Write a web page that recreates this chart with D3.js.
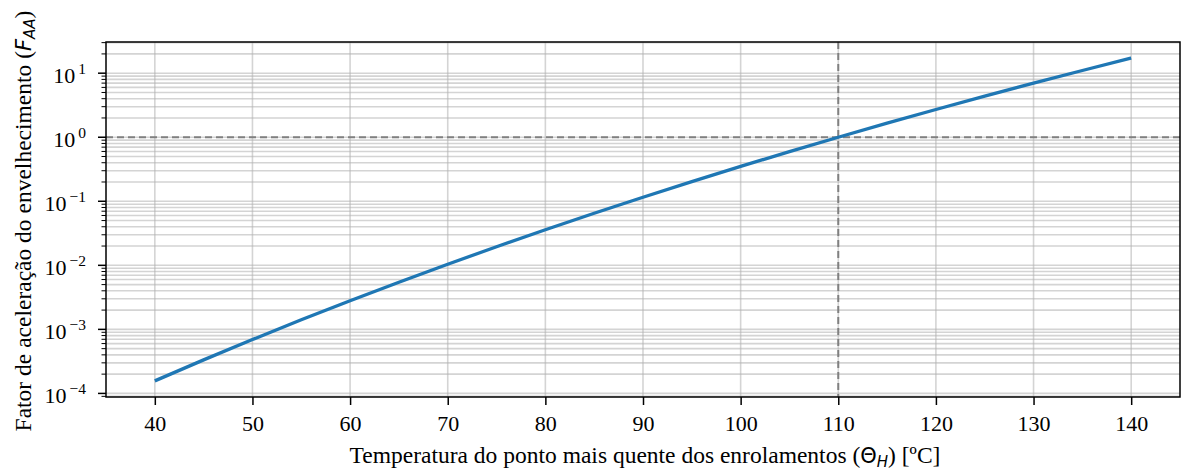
<!DOCTYPE html>
<html>
<head>
<meta charset="utf-8">
<script src="https://cdn.jsdelivr.net/npm/d3@7"></script>
<style>
  body { margin: 0; background: #fff; }
  svg { display: block; font-family: 'Liberation Serif', 'Times New Roman', serif; }
</style>
</head>
<body>
<div class="canvas"></div>
<script>
// hot-spot temperature [ºC] and aging acceleration factor
const temps = [40, 45, 50, 55, 60, 65, 70, 75, 80, 85, 90, 95, 100, 105, 110, 115, 120, 125, 130, 135, 140]
const faa = [1.57e-4, 3.34e-4, 6.93e-4, 1.41e-3, 2.79e-3, 5.44e-3, 1.04e-2, 1.95e-2, 3.59e-2, 6.49e-2,
    0.1156, 0.2026, 0.350, 0.596, 1.0, 1.657, 2.71, 4.38, 6.99, 11.02, 17.2]
const xTicks = [40, 50, 60, 70, 80, 90, 100, 110, 120, 130, 140]
const yExps = [-4, -3, -2, -1, 0, 1]
const refTemp = 110
const refFactor = 1

const width = 1181
const height = 470
const margin = { top: 42, right: 1, bottom: 73, left: 106 }

const svg = d3.select('.canvas')
    .append('svg')
    .attr('width', width)
    .attr('height', height)

const x = d3.scaleLinear()
    .domain([35, 145])
    .range([margin.left, width - margin.right])

const y = d3.scaleLog()
    .domain([Math.pow(10, -4.056), Math.pow(10, 1.487)])
    .range([height - margin.bottom, margin.top])

const [x0, x1] = x.range()
const [y0, y1] = y.range()

// minor ticks for the log axis
const minor = []
for (let e = -5; e <= 1; e++) {
    for (let m = 2; m <= 9; m++) {
        const v = m * Math.pow(10, e)
        if (v > y.domain()[0] && v < y.domain()[1]) minor.push(v)
    }
}

const grid = svg.append('g')
    .attr('stroke', '#b0b0b0')
    .attr('stroke-opacity', 0.55)
    .attr('stroke-width', 1.6)

grid.selectAll('.gy')
    .data(minor.concat(yExps.map(e => Math.pow(10, e))))
    .enter().append('line')
    .attr('x1', x0).attr('x2', x1)
    .attr('y1', d => y(d)).attr('y2', d => y(d))

grid.selectAll('.gx')
    .data(xTicks)
    .enter().append('line')
    .attr('x1', d => x(d)).attr('x2', d => x(d))
    .attr('y1', y1).attr('y2', y0)

// reference lines
svg.append('line')
    .attr('x1', x0).attr('x2', x1)
    .attr('y1', y(refFactor)).attr('y2', y(refFactor))
    .attr('stroke', '#808080').attr('stroke-width', 2).attr('stroke-dasharray', '7,4')
svg.append('line')
    .attr('x1', x(refTemp)).attr('x2', x(refTemp))
    .attr('y1', y1).attr('y2', y0)
    .attr('stroke', '#808080').attr('stroke-width', 2).attr('stroke-dasharray', '7,4')

// curve
const line = d3.line()
    .x((d, i) => x(temps[i]))
    .y(d => y(d))
    .curve(d3.curveMonotoneX)

svg.append('path')
    .datum(faa)
    .attr('d', line)
    .attr('fill', 'none')
    .attr('stroke', '#1f77b4')
    .attr('stroke-width', 3.3)

// frame
svg.append('rect')
    .attr('x', x0).attr('y', y1)
    .attr('width', x1 - x0).attr('height', y0 - y1)
    .attr('fill', 'none').attr('stroke', '#000').attr('stroke-width', 1.5)

// x axis
const xAxis = d3.axisBottom(x)
    .tickValues(xTicks)
    .tickSize(8)
    .tickPadding(10)
    .tickFormat(d3.format('d'))

const xAxisGroup = svg.append('g')
    .attr('transform', `translate(0, ${y0})`)
    .call(xAxis)
xAxisGroup.select('.domain').remove()
xAxisGroup.selectAll('line').attr('stroke-width', 1.5)
xAxisGroup.selectAll('text')
    .attr('font-size', 22)
    .attr('font-family', "'Liberation Serif', serif")
    .attr('fill', '#000')

// y axis
const yAxisGroup = svg.append('g')
yAxisGroup.selectAll('.maj')
    .data(yExps)
    .enter().append('line')
    .attr('x1', x0 - 8).attr('x2', x0)
    .attr('y1', d => y(Math.pow(10, d))).attr('y2', d => y(Math.pow(10, d)))
    .attr('stroke', '#000').attr('stroke-width', 1.5)
yAxisGroup.selectAll('.min')
    .data(minor)
    .enter().append('line')
    .attr('x1', x0 - 4.5).attr('x2', x0)
    .attr('y1', d => y(d)).attr('y2', d => y(d))
    .attr('stroke', '#000').attr('stroke-width', 1)

const yLabels = yAxisGroup.selectAll('.lab')
    .data(yExps)
    .enter().append('text')
    .attr('x', x0 - 20)
    .attr('y', d => y(Math.pow(10, d)) + 9.5)
    .attr('text-anchor', 'end')
    .attr('font-size', 22)
    .attr('fill', '#000')
yLabels.append('tspan').text('10')
yLabels.append('tspan')
    .attr('dx', 3)
    .attr('dy', -8.5)
    .attr('font-size', 15.5)
    .text(d => d < 0 ? '\u2212' + (-d) : d)

// axis titles
const xt = svg.append('text')
    .attr('x', 645)
    .attr('y', 463)
    .attr('text-anchor', 'middle')
    .attr('font-size', 23.5)
xt.append('tspan').text('Temperatura do ponto mais quente dos enrolamentos (')
xt.append('tspan').attr('font-family', "'DejaVu Sans', sans-serif").attr('font-size', 21).text('\u0398')
xt.append('tspan').attr('font-family', "'DejaVu Sans', sans-serif").attr('font-style', 'italic')
    .attr('font-size', 15).attr('dy', 4).text('H')
xt.append('tspan').attr('dy', -4).text(') [ºC]')

const yt = svg.append('text')
    .attr('transform', `translate(31, 221) rotate(-90)`)
    .attr('text-anchor', 'middle')
    .attr('font-size', 23.5)
yt.append('tspan').text('Fator de aceleração do envelhecimento (')
yt.append('tspan').attr('font-family', "'DejaVu Sans', sans-serif").attr('font-style', 'italic')
    .attr('font-size', 21).text('F')
yt.append('tspan').attr('font-family', "'DejaVu Sans', sans-serif").attr('font-style', 'italic')
    .attr('font-size', 15).attr('dy', 4).text('AA')
yt.append('tspan').attr('dy', -4).text(')')
</script>
</body>
</html>
